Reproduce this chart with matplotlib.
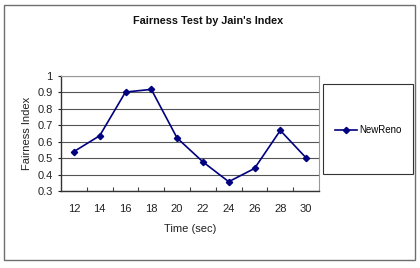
import matplotlib
matplotlib.use("Agg")
import matplotlib.pyplot as plt
from matplotlib.patches import Rectangle

categories = ["12", "14", "16", "18", "20", "22", "24", "26", "28", "30"]
newreno = [0.54, 0.636, 0.90, 0.916, 0.622, 0.478, 0.358, 0.438, 0.668, 0.502]
yticks = [0.3, 0.4, 0.5, 0.6, 0.7, 0.8, 0.9, 1.0]
ytick_labels = ["0.3", "0.4", "0.5", "0.6", "0.7", "0.8", "0.9", "1"]

plt.rcParams['font.family'] = ['Liberation Sans', 'DejaVu Sans']

W, H = 420, 268
fig = plt.figure(figsize=(W / 100, H / 100), dpi=100)

def fx(px):
    return px / W

def fy(py):
    return (H - py) / H

# outer chart frame
fig.patches.append(Rectangle((fx(4), fy(259.5)), fx(415) - fx(4), fy(4.7) - fy(259.5),
                             transform=fig.transFigure, fill=False,
                             edgecolor='#6e6e6e', linewidth=1.0))

ax = fig.add_axes([fx(61), fy(191.3), fx(319) - fx(61), fy(75.5) - fy(191.3)])
x = list(range(len(categories)))
line, = ax.plot(x, newreno, color='#000080', marker='D', markersize=3.2,
                linewidth=1.2, label='NewReno')
ax.set_xlim(-0.5, len(categories) - 0.5)
ax.set_ylim(0.3, 1.0)
ax.set_yticks(yticks)
ax.set_yticklabels(ytick_labels)
ax.set_xticks(x)
ax.set_xticklabels(categories)
ax.set_xticks([i + 0.5 for i in range(len(categories) - 1)], minor=True)
ax.tick_params(axis='x', which='major', length=0, labelsize=8, pad=9, colors='#222222')
ax.tick_params(axis='x', which='minor', direction='in', length=3, width=0.8, color='#444444')
ax.tick_params(axis='y', which='major', direction='out', length=2, width=0.8,
               labelsize=8, pad=4, colors='#222222')
ax.grid(axis='y', color='#555555', linewidth=0.8)
ax.set_axisbelow(True)
for side in ['top', 'right']:
    ax.spines[side].set_color('#999999')
    ax.spines[side].set_linewidth(0.8)
for side in ['left', 'bottom']:
    ax.spines[side].set_color('#333333')
    ax.spines[side].set_linewidth(1.0)

ax.set_xlabel('Time (sec)', fontsize=8, labelpad=7, color='#222222')
ax.set_ylabel('Fairness Index', fontsize=8, labelpad=4, color='#222222')

fig.text(fx(208), fy(21), "Fairness Test by Jain's Index", ha='center', va='center',
         fontsize=7.8, fontweight='bold', color='#111111')

# legend box
fig.patches.append(Rectangle((fx(322.7), fy(174)), fx(413) - fx(322.7), fy(84) - fy(174),
                             transform=fig.transFigure, fill=False,
                             edgecolor='#333333', linewidth=0.8))
fig.legend(handles=[line], loc='center', bbox_to_anchor=(fx(368), fy(130)),
           frameon=False, fontsize=7, handlelength=2.3, handletextpad=0.2,
           borderpad=0, borderaxespad=0)

fig.savefig('out.png', dpi=100)
